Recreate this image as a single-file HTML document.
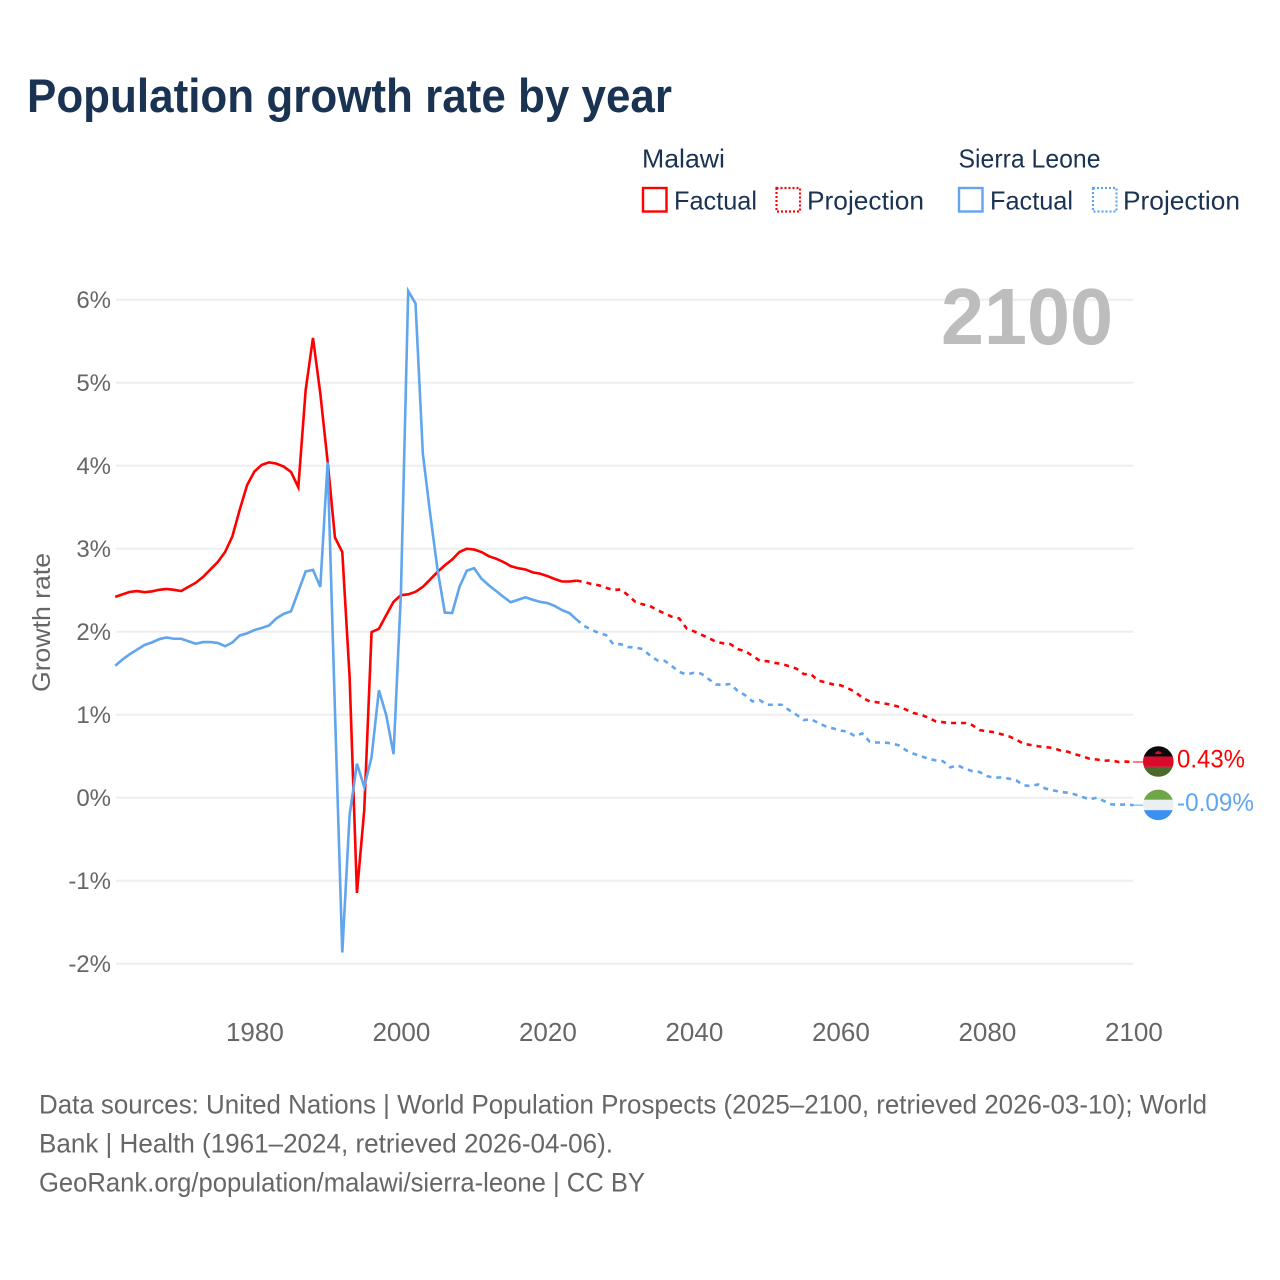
<!DOCTYPE html>
<html lang="en">
<head>
<meta charset="utf-8">
<title>Population growth rate by year</title>
<style>
  html, body { margin: 0; padding: 0; background: #fff; }
  svg { display: block; font-family: "Liberation Sans", sans-serif; }
</style>
</head>
<body>
<svg id="chart" xmlns="http://www.w3.org/2000/svg" width="1280" height="1280" viewBox="0 0 1280 1280">
  <rect x="0" y="0" width="1280" height="1280" fill="#fff"/>
  <text x="27" y="112" font-size="47" font-weight="700" fill="#1a3352" textLength="645" lengthAdjust="spacingAndGlyphs">Population growth rate by year</text>

  <g font-size="26" fill="#1a3352">
    <text x="642" y="167.5" textLength="83" lengthAdjust="spacingAndGlyphs">Malawi</text>
    <text x="958.5" y="167.5" textLength="142" lengthAdjust="spacingAndGlyphs">Sierra Leone</text>
    <g>
      <rect x="643" y="188" width="23.5" height="23.5" fill="#fff" stroke="#ff0000" stroke-width="2.4"/>
      <text x="674" y="209.5" textLength="83" lengthAdjust="spacingAndGlyphs">Factual</text>
    </g>
    <g>
      <rect x="776.5" y="188" width="23.5" height="23.5" fill="#fff" stroke="#ff0000" stroke-width="2.2" stroke-dasharray="2 2"/>
      <text x="807" y="209.5" textLength="117" lengthAdjust="spacingAndGlyphs">Projection</text>
    </g>
    <g>
      <rect x="959" y="188" width="23.5" height="23.5" fill="#fff" stroke="#60a5ee" stroke-width="2.4"/>
      <text x="990" y="209.5" textLength="83" lengthAdjust="spacingAndGlyphs">Factual</text>
    </g>
    <g>
      <rect x="1093" y="188" width="23.5" height="23.5" fill="#fff" stroke="#60a5ee" stroke-width="2.2" stroke-dasharray="2 2"/>
      <text x="1123" y="209.5" textLength="117" lengthAdjust="spacingAndGlyphs">Projection</text>
    </g>
  </g>

  <g id="grid"></g>
  <text x="941" y="344" font-size="80" font-weight="700" fill="#bdbdbd" textLength="172" lengthAdjust="spacingAndGlyphs">2100</text>
  <g id="yaxis" font-size="24" fill="#666" text-anchor="end"></g>
  <g id="xaxis" font-size="26" fill="#666" text-anchor="middle"></g>
  <text transform="translate(50 622.5) rotate(-90)" font-size="25" fill="#666" text-anchor="middle" textLength="139" lengthAdjust="spacingAndGlyphs">Growth rate</text>
  <g id="series"></g>

  <defs>
    <clipPath id="flag-clip-malawi"><circle id="clip-malawi" cx="1158.3" cy="761" r="15.3"/></clipPath>
    <clipPath id="flag-clip-sierra"><circle id="clip-sierra" cx="1158.3" cy="805" r="15.3"/></clipPath>
  </defs>
  <g id="flag-malawi" clip-path="url(#flag-clip-malawi)"></g>
  <g id="flag-sierra" clip-path="url(#flag-clip-sierra)"></g>
  <g id="labels" font-size="25"></g>

  <g font-size="26.5" fill="#666">
    <text x="39" y="1113.5" textLength="1168" lengthAdjust="spacingAndGlyphs">Data sources: United Nations | World Population Prospects (2025–2100, retrieved 2026-03-10); World</text>
    <text x="39" y="1152.5" textLength="574" lengthAdjust="spacingAndGlyphs">Bank | Health (1961–2024, retrieved 2026-04-06).</text>
    <text x="39" y="1191.5" textLength="606" lengthAdjust="spacingAndGlyphs">GeoRank.org/population/malawi/sierra-leone | CC BY</text>
  </g>
</svg>

<script>
const yTickValues = [6, 5, 4, 3, 2, 1, 0, -1, -2];
const yTickLabels = ['6%', '5%', '4%', '3%', '2%', '1%', '0%', '-1%', '-2%'];
const xTickValues = [1980, 2000, 2020, 2040, 2060, 2080, 2100];
const xTickLabels = ['1980', '2000', '2020', '2040', '2060', '2080', '2100'];

const factualStartYear = 1961;
const projectionStartYear = 2024;

const malawiFactual = [
  2.42, 2.45, 2.48, 2.49, 2.476, 2.485, 2.505, 2.515, 2.505, 2.49,
  2.54, 2.59, 2.66, 2.75, 2.84, 2.96, 3.15, 3.47, 3.765, 3.93,
  4.01, 4.04, 4.025, 3.99, 3.925, 3.74, 4.91, 5.54, 4.87, 4.05,
  3.135, 2.96, 1.455, -1.147, -0.15, 1.995, 2.035, 2.2, 2.36, 2.44,
  2.45, 2.48, 2.54, 2.63, 2.72, 2.8, 2.87, 2.96, 3.0, 2.99,
  2.96, 2.91, 2.88, 2.84, 2.79, 2.765, 2.75, 2.715, 2.7, 2.67,
  2.635, 2.605, 2.605, 2.615
];

const malawiProjection = [
  2.615, 2.6, 2.575, 2.56, 2.53, 2.5, 2.51, 2.44, 2.36, 2.33,
  2.31, 2.26, 2.22, 2.18, 2.16, 2.04, 2.005, 1.965, 1.925, 1.88,
  1.86, 1.85, 1.79, 1.765, 1.71, 1.65, 1.645, 1.625, 1.61, 1.585,
  1.555, 1.49, 1.485, 1.41, 1.39, 1.365, 1.355, 1.32, 1.275, 1.205,
  1.16, 1.15, 1.135, 1.12, 1.095, 1.06, 1.02, 1.0, 0.965, 0.92,
  0.91, 0.9, 0.9, 0.9, 0.875, 0.815, 0.8, 0.79, 0.765, 0.74,
  0.7, 0.65, 0.635, 0.62, 0.61, 0.6, 0.57, 0.555, 0.525, 0.5,
  0.47, 0.46, 0.445, 0.45, 0.43, 0.435, 0.43
];

const sierraFactual = [
  1.59, 1.665, 1.73, 1.785, 1.84, 1.87, 1.91, 1.93, 1.915, 1.915,
  1.885, 1.855, 1.875, 1.875, 1.865, 1.825, 1.87, 1.955, 1.98, 2.02,
  2.045, 2.075, 2.16, 2.215, 2.245, 2.485, 2.725, 2.745, 2.54, 4.04,
  1.05, -1.865, -0.21, 0.41, 0.13, 0.49, 1.295, 0.995, 0.525, 2.45,
  6.105, 5.955, 4.145, 3.42, 2.75, 2.23, 2.225, 2.54, 2.735, 2.765,
  2.64, 2.56, 2.49, 2.42, 2.355, 2.385, 2.415, 2.385, 2.36, 2.345,
  2.31, 2.26, 2.225, 2.145
];

const sierraProjection = [
  2.145, 2.07, 2.025, 1.985, 1.96, 1.85, 1.85, 1.815, 1.81, 1.79,
  1.715, 1.655, 1.65, 1.585, 1.515, 1.485, 1.505, 1.495, 1.43, 1.365,
  1.36, 1.37, 1.285, 1.235, 1.16, 1.175, 1.12, 1.12, 1.12, 1.055,
  1.0, 0.935, 0.945, 0.9, 0.86, 0.835, 0.81, 0.795, 0.74, 0.775,
  0.675, 0.665, 0.665, 0.655, 0.63, 0.57, 0.53, 0.5, 0.47, 0.45,
  0.44, 0.365, 0.39, 0.35, 0.32, 0.31, 0.26, 0.24, 0.245, 0.23,
  0.21, 0.15, 0.14, 0.16, 0.11, 0.09, 0.07, 0.06, 0.04, 0.01,
  -0.02, 0, -0.04, -0.08, -0.085, -0.08, -0.09
];

const SVG_NS = 'http://www.w3.org/2000/svg';
const RED = '#ff0000';
const BLUE = '#60a5ee';

function xScale(year) { return 115.2 + (year - 1961) * 7.325; }
function yScale(value) { return 797.7 - value * 83; }

function make(tag, attrs, parent) {
  const el = document.createElementNS(SVG_NS, tag);
  for (const k in attrs) el.setAttribute(k, attrs[k]);
  parent.appendChild(el);
  return el;
}

const grid = document.getElementById('grid');
const yaxis = document.getElementById('yaxis');
const xaxis = document.getElementById('xaxis');
const seriesGroup = document.getElementById('series');
const labels = document.getElementById('labels');

yTickValues.forEach(function (v, i) {
  const line = make('line', { x1: 116, x2: 1133, y1: yScale(v), y2: yScale(v), stroke: '#eeeeee', 'stroke-width': 2 }, grid);
  
  
  const t = make('text', { x: 111, y: yScale(v) + 8.5 }, yaxis);
  t.textContent = yTickLabels[i];
  
  
});

xTickValues.forEach(function (v, i) {
  const t = make('text', { x: xScale(v) + 0.5, y: 1041 }, xaxis);
  t.textContent = xTickLabels[i];
  
  
});

function linePoints(values, startYear) {
  return values.map(function (v, i) {
    return xScale(startYear + i).toFixed(2) + ',' + yScale(v).toFixed(2);
  }).join(' ');
}

const malawiProjectionLine = make('polyline', { points: linePoints(malawiProjection, projectionStartYear), fill: 'none', stroke: RED, 'stroke-width': 2.6, 'stroke-dasharray': '5 5', 'stroke-linejoin': 'round' }, seriesGroup);



const sierraProjectionLine = make('polyline', { points: linePoints(sierraProjection, projectionStartYear), fill: 'none', stroke: BLUE, 'stroke-width': 2.6, 'stroke-dasharray': '5 5', 'stroke-linejoin': 'round' }, seriesGroup);



const malawiFactualLine = make('polyline', { points: linePoints(malawiFactual, factualStartYear), fill: 'none', stroke: RED, 'stroke-width': 2.6, 'stroke-linejoin': 'miter' }, seriesGroup);



const sierraFactualLine = make('polyline', { points: linePoints(sierraFactual, factualStartYear), fill: 'none', stroke: BLUE, 'stroke-width': 2.6, 'stroke-linejoin': 'miter' }, seriesGroup);



const malawiLast = malawiProjection[malawiProjection.length - 1];
const sierraLast = sierraProjection[sierraProjection.length - 1];
const mY = yScale(malawiLast);
const sY = yScale(sierraLast);
const flagX = 1143;

const malawiLeader = make('line', { x1: 1133, x2: flagX, y1: mY, y2: mY, stroke: RED, 'stroke-width': 1 }, seriesGroup);



const sierraLeader = make('line', { x1: 1133, x2: flagX, y1: sY, y2: sY, stroke: BLUE, 'stroke-width': 1 }, seriesGroup);



document.getElementById('clip-malawi').setAttribute('cy', mY - 0.5);
document.getElementById('clip-sierra').setAttribute('cy', sY - 0.3);

const flagMalawi = document.getElementById('flag-malawi');
make('rect', { x: 1143, y: mY - 16.5, width: 31, height: 11, fill: '#0a0a0a' }, flagMalawi);
make('rect', { x: 1143, y: mY - 5.5, width: 31, height: 10.4, fill: '#dc0a2a' }, flagMalawi);
make('rect', { x: 1143, y: mY + 4.9, width: 31, height: 11, fill: '#4a6a2c' }, flagMalawi);
make('path', { d: 'M' + 1154.8 + ' ' + (mY - 8) + 'h7l-1.2-2.2h-1.4l-.9-1.6-.9 1.6h-1.4z', fill: '#dc0a2a' }, flagMalawi);

const flagSierra = document.getElementById('flag-sierra');
make('rect', { x: 1143, y: sY - 16.3, width: 31, height: 11, fill: '#6ea648' }, flagSierra);
make('rect', { x: 1143, y: sY - 5.4, width: 31, height: 10.4, fill: '#eceff1' }, flagSierra);
make('rect', { x: 1143, y: sY + 5, width: 31, height: 11, fill: '#3a8ff2' }, flagSierra);

const malawiValueLabel = make('text', { x: 1177, y: mY + 5.5, fill: RED, textLength: 68, lengthAdjust: 'spacingAndGlyphs' }, labels);
malawiValueLabel.textContent = malawiLast.toFixed(2) + '%';



const sierraValueLabel = make('text', { x: 1177, y: sY + 6, fill: BLUE, textLength: 77, lengthAdjust: 'spacingAndGlyphs' }, labels);
sierraValueLabel.textContent = sierraLast.toFixed(2) + '%';


</script>
</body>
</html>
